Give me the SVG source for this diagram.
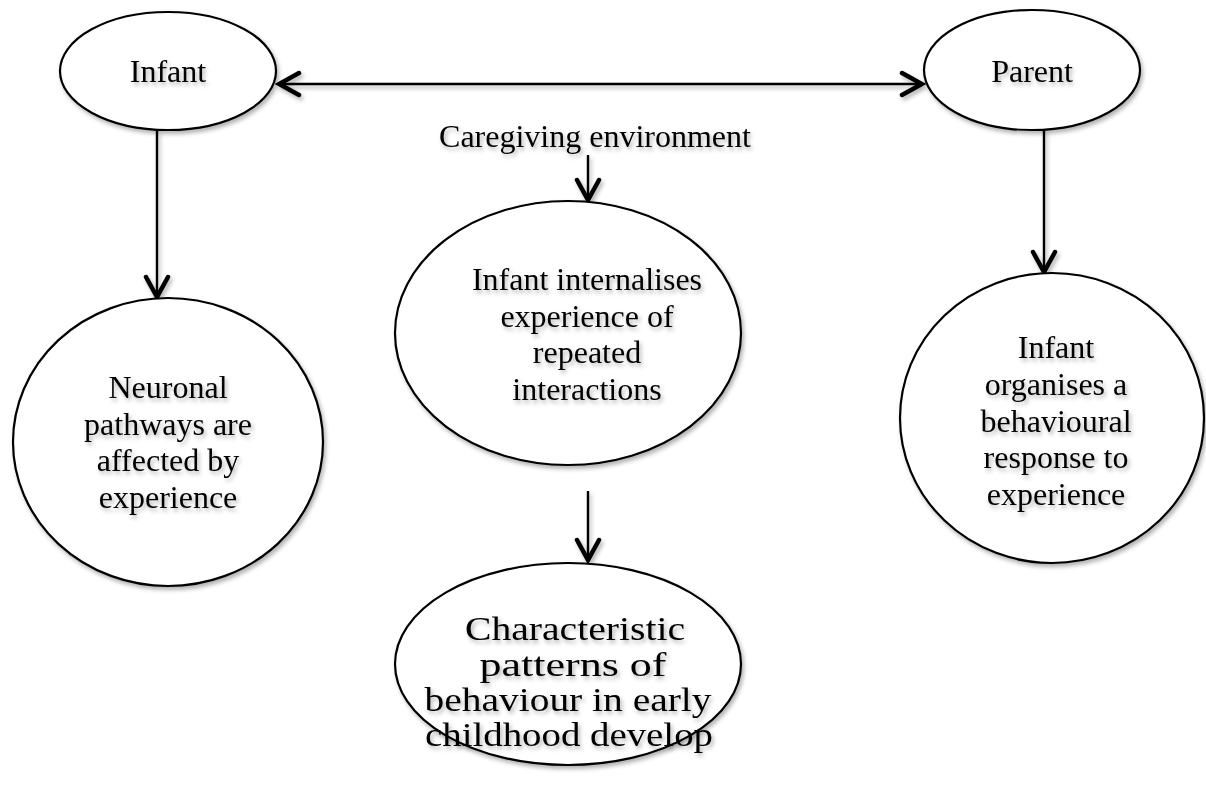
<svg xmlns="http://www.w3.org/2000/svg" width="1206" height="795" viewBox="0 0 1206 795">
<defs>
<filter id="sh" x="-10%" y="-10%" width="130%" height="130%">
<feDropShadow dx="2" dy="3" stdDeviation="2" flood-color="#000" flood-opacity="0.3"/>
</filter>
<filter id="shc" filterUnits="userSpaceOnUse" x="0" y="0" width="1206" height="795">
<feDropShadow dx="2" dy="3" stdDeviation="2" flood-color="#000" flood-opacity="0.3"/>
</filter>
<marker id="ah" markerUnits="userSpaceOnUse" viewBox="-26 -16 30 32" refX="1" refY="0" markerWidth="30" markerHeight="32" orient="auto-start-reverse">
<path d="M-20,-11 L0,0 L-20,11" fill="none" stroke="#000" stroke-width="4.5" stroke-linecap="round" stroke-linejoin="miter"/>
</marker>
</defs>
<style>
.node ellipse{fill:#fff;stroke:#000;stroke-width:2.2;filter:url(#sh)}
text{font-family:"Liberation Serif","Times New Roman",serif;font-size:32px;fill:#000;text-anchor:middle;filter:url(#sh)}
.big text{font-size:34px}
.conn{filter:url(#shc)}
.conn line{stroke:#000;stroke-width:2.4;fill:none}
</style>
<rect width="1206" height="795" fill="#fff"/>
<g class="conn" id="connectors">
<line x1="278" y1="84" x2="923" y2="84" marker-start="url(#ah)" marker-end="url(#ah)"/>
<line x1="157" y1="131" x2="157" y2="298" marker-end="url(#ah)"/>
<line x1="1044" y1="130" x2="1044" y2="273" marker-end="url(#ah)"/>
<line x1="588" y1="155" x2="588" y2="201" marker-end="url(#ah)"/>
<line x1="588" y1="491" x2="588" y2="561" marker-end="url(#ah)"/>
</g>
<g class="node" id="infant">
<ellipse cx="168" cy="71" rx="108" ry="59"/>
<text x="168" y="82">Infant</text>
</g>
<g class="node" id="parent">
<ellipse cx="1032" cy="70" rx="108" ry="60"/>
<text x="1032" y="82">Parent</text>
</g>
<g id="caregiving">
<text x="595" y="147">Caregiving environment</text>
</g>
<g class="node" id="neuronal">
<ellipse cx="168" cy="442" rx="155" ry="144"/>
<text x="168" y="398">Neuronal</text>
<text x="168" y="435">pathways are</text>
<text x="168" y="471">affected by</text>
<text x="168" y="508">experience</text>
</g>
<g class="node" id="internalises">
<ellipse cx="568" cy="333" rx="173" ry="132"/>
<text x="587" y="290">Infant internalises</text>
<text x="587" y="327">experience of</text>
<text x="587" y="363">repeated</text>
<text x="587" y="400">interactions</text>
</g>
<g class="node" id="organises">
<ellipse cx="1052" cy="418" rx="152" ry="145"/>
<text x="1056" y="358">Infant</text>
<text x="1056" y="395">organises a</text>
<text x="1056" y="432">behavioural</text>
<text x="1056" y="468">response to</text>
<text x="1056" y="505">experience</text>
</g>
<g class="node big" id="patterns">
<ellipse cx="568" cy="664" rx="173" ry="101"/>
<text x="575" y="640" textLength="220" lengthAdjust="spacingAndGlyphs">Characteristic</text>
<text x="573" y="676" textLength="187" lengthAdjust="spacingAndGlyphs">patterns of</text>
<text x="568" y="711" textLength="287" lengthAdjust="spacingAndGlyphs">behaviour in early</text>
<text x="569" y="746" textLength="288" lengthAdjust="spacingAndGlyphs">childhood develop</text>
</g>
</svg>
